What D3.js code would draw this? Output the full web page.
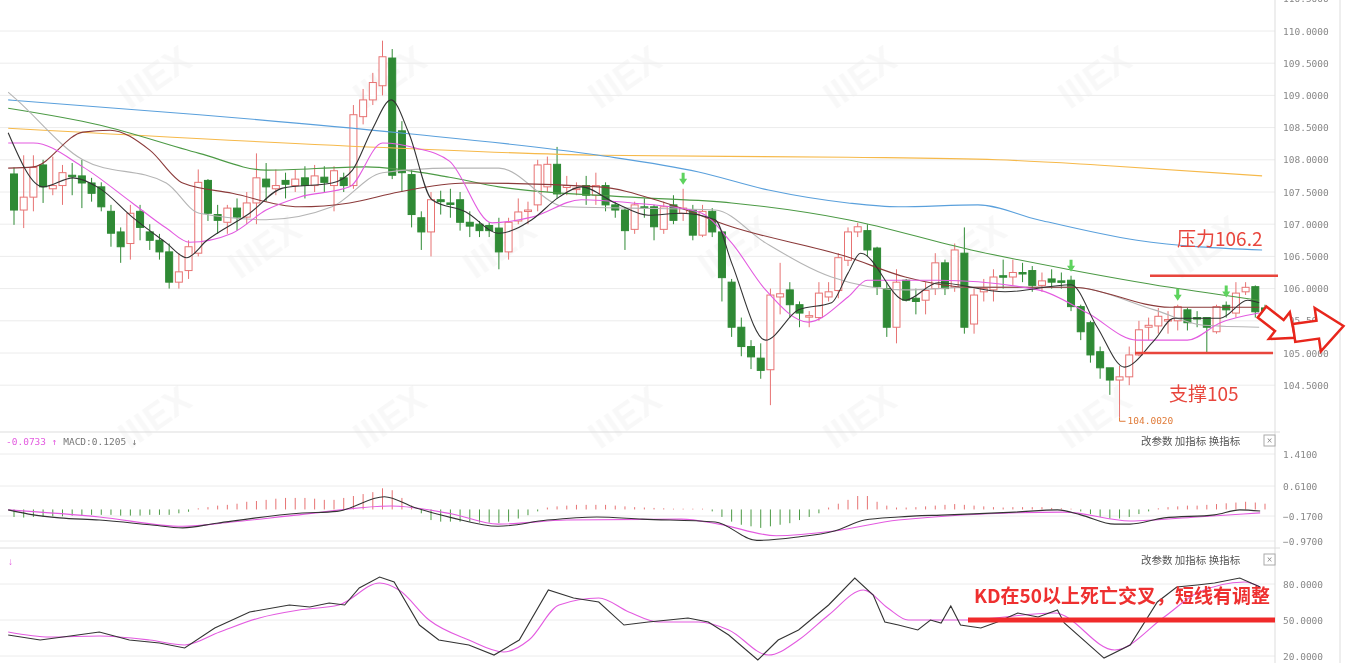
<!DOCTYPE html>
<html><head><meta charset="utf-8">
<script src="https://cdn.jsdelivr.net/npm/d3@7/dist/d3.min.js"></script>
<style>body{margin:0;background:#fff}svg{display:block}</style>
</head><body>
<svg id="c" width="1350" height="663"></svg>
<script>
// ---- candles [open, high, low, close]
const candles = [
[107.78,107.88,106.99,107.22],[107.22,108.07,106.94,107.42],[107.42,108.07,107.2,107.88],[107.92,108.0,107.33,107.58],[107.55,108.05,107.45,107.6],
[107.6,107.92,107.3,107.8],[107.76,107.95,107.45,107.74],[107.75,108.0,107.25,107.64],[107.64,107.72,107.35,107.48],[107.58,107.65,107.2,107.27],
[107.2,107.3,106.65,106.86],[106.88,106.95,106.4,106.65],[106.7,107.3,106.45,107.17],[107.2,107.3,106.75,106.95],[106.88,107.0,106.6,106.75],
[106.75,106.85,106.45,106.57],[106.57,106.7,106.0,106.1],[106.1,106.55,106.0,106.26],[106.28,106.75,106.15,106.65],[106.55,107.85,106.5,107.65],
[107.68,107.7,107.05,107.17],[107.15,107.3,106.85,107.06],[107.03,107.3,106.85,107.25],[107.25,107.4,106.9,107.11],[107.11,107.5,107.0,107.33],
[107.33,108.1,107.0,107.72],[107.7,107.95,107.35,107.58],[107.55,107.85,107.45,107.6],[107.68,107.8,107.4,107.62],[107.6,107.85,107.5,107.7],
[107.72,107.9,107.4,107.6],[107.6,107.92,107.5,107.75],[107.73,107.9,107.5,107.65],[107.6,107.9,107.2,107.83],[107.72,107.8,107.5,107.6],
[107.6,108.85,107.55,108.7],[108.67,109.1,108.55,108.93],[108.93,109.35,108.85,109.2],[109.15,109.85,109.0,109.6],[109.58,109.72,107.7,107.76],
[108.45,108.6,107.5,107.8],[107.77,107.85,106.95,107.15],[107.1,107.2,106.6,106.88],[106.88,107.5,106.5,107.38],[107.38,107.52,107.15,107.35],
[107.33,107.55,107.1,107.32],[107.38,107.5,106.9,107.03],[107.03,107.2,106.8,106.97],[107.0,107.05,106.8,106.9],[106.98,107.03,106.8,106.9],
[106.94,107.1,106.3,106.57],[106.57,107.1,106.45,107.03],[107.05,107.4,107.0,107.19],[107.2,107.35,107.0,107.22],[107.3,108.0,107.2,107.92],
[107.58,108.05,107.5,107.93],[107.93,108.2,107.4,107.47],[107.57,107.75,107.45,107.6],[107.55,107.65,107.45,107.56],[107.6,107.75,107.3,107.45],
[107.45,107.8,107.3,107.6],[107.6,107.65,107.2,107.3],[107.3,107.35,107.1,107.22],[107.22,107.25,106.6,106.9],[106.92,107.35,106.85,107.3],
[107.27,107.4,107.1,107.25],[107.27,107.3,106.75,106.96],[106.92,107.35,106.85,107.27],[107.3,107.45,107.0,107.06],[107.17,107.55,107.05,107.25],
[107.22,107.3,106.75,106.83],[106.83,107.3,106.8,107.2],[107.2,107.25,106.8,106.88],[106.88,106.9,105.8,106.17],[106.1,106.15,105.25,105.4],
[105.4,105.55,104.95,105.1],[105.1,105.2,104.75,104.94],[104.92,105.15,104.6,104.73],[104.74,106.0,104.19,105.9],[105.87,106.4,105.6,105.92],
[105.98,106.1,105.55,105.75],[105.75,105.8,105.4,105.62],[105.57,105.65,105.4,105.58],[105.55,106.1,105.5,105.93],[105.87,106.1,105.8,105.95],
[105.97,106.55,105.85,106.48],[106.44,106.95,106.35,106.88],[106.88,107.02,106.8,106.96],[106.9,107.0,106.5,106.6],[106.63,106.65,105.9,106.03],
[106.0,106.1,105.25,105.4],[105.4,106.3,105.15,106.1],[106.13,106.15,105.8,105.82],[105.85,106.0,105.6,105.8],[105.82,106.1,105.6,105.97],
[106.0,106.55,105.9,106.4],[106.4,106.45,105.9,106.0],[106.02,106.7,105.95,106.6],[106.55,106.95,105.3,105.4],[105.45,106.0,105.3,105.9],
[105.95,106.15,105.8,106.0],[105.98,106.3,105.8,106.18],[106.2,106.45,106.0,106.18],[106.18,106.45,106.05,106.25],[106.25,106.4,106.1,106.24],
[106.28,106.35,105.95,106.05],[106.05,106.25,105.95,106.12],[106.15,106.3,106.0,106.1],[106.12,106.25,106.0,106.1],[106.13,106.2,105.65,105.72],
[105.72,105.75,105.2,105.33],[105.47,105.5,104.85,104.97],[105.02,105.1,104.6,104.77],[104.77,104.75,104.35,104.58],[104.58,104.8,104.002,104.63],
[104.63,105.1,104.5,104.97],[104.97,105.5,104.95,105.36],[105.4,105.55,105.2,105.43],[105.42,105.7,105.3,105.57],[105.5,105.65,105.3,105.52],
[105.5,105.75,105.35,105.72],[105.67,105.7,105.35,105.47],[105.55,105.65,105.4,105.53],[105.55,105.55,105.0,105.4],[105.33,105.75,105.3,105.72],
[105.74,105.8,105.55,105.67],[105.62,106.1,105.55,105.93],[105.95,106.1,105.9,106.02],[106.03,106.05,105.55,105.64],[105.7,105.75,105.5,105.6]
];
// ---- moving averages [candle index, price]
const ma5 = [[-0.6,108.42],[3,107.58],[6.1,107.72],[8.8,107.56],[12.2,107.11],[15.7,106.71],[17.8,106.48],[19.9,106.75],[24.3,107.17],[27.7,107.56],[32.8,107.64],[34.9,107.84],[36.9,108.46],[38.9,108.93],[40.7,108.42],[43.1,107.38],[46.6,107.19],[50,106.86],[53.4,107.07],[56.2,107.42],[58.5,107.58],[62,107.33],[65.4,107.14],[68.8,107.17],[72.3,107.07],[74,106.4],[77.5,105.2],[80.9,105.67],[84.3,105.78],[86,106.24],[87.3,106.55],[91.9,105.82],[95.3,106.09],[102.2,105.95],[109,106.06],[111.7,105.4],[114.5,104.78],[117.6,105.2],[119.6,105.54],[124.4,105.54],[127.2,105.82],[128.4,105.78]];
const ma10 = [[-0.6,108.26],[2,108.26],[7.1,107.89],[12.2,107.33],[15.7,106.94],[18.1,106.72],[22.5,106.86],[26,107.22],[29.4,107.42],[34.6,107.58],[38,108.26],[41.5,108.18],[44.9,107.98],[49.3,107.02],[53.4,107.11],[58.5,107.38],[63.7,107.33],[70.6,107.19],[74,106.71],[77.5,105.98],[81.9,105.48],[86,105.87],[88,106.13],[95.3,106.13],[105.6,105.98],[110.7,105.62],[115.8,105.2],[121,105.2],[124.4,105.47],[128.4,105.62]];
const ma20 = [[-0.6,107.87],[2,107.89],[7.1,108.43],[9.9,108.46],[14,108.15],[17.4,107.64],[22.5,107.48],[29.4,107.27],[34.6,107.33],[39.7,107.5],[46.6,107.64],[60.3,107.58],[67.2,107.33],[74,106.96],[86,106.49],[91.9,106.18],[98.7,106.02],[109,106.02],[119.2,105.71],[128.4,105.71]];
const ma30 = [[-0.6,109.05],[0.3,108.93],[7.1,108.0],[15.7,107.64],[19.1,107.17],[26,107.07],[32.8,107.27],[38,107.8],[44.9,107.87],[50,107.87],[56.9,107.27],[63.7,107.25],[72.3,107.22],[77.5,106.71],[84.3,106.18],[91.9,105.98],[98.7,106.02],[109,106.02],[117.6,105.67],[122.7,105.43],[128.4,105.4]];
const ma60 = [[-0.6,108.8],[8.8,108.54],[19.1,108.1],[26,107.84],[36.3,107.89],[44.9,107.73],[50,107.58],[63.7,107.42],[74,107.33],[86,107.07],[98.7,106.6],[109,106.29],[119.2,106.02],[128.4,105.82]];
const ma120 = [[-0.6,108.93],[19.1,108.7],[39.7,108.42],[60.3,108.07],[70.6,107.81],[77.8,107.53],[86,107.33],[91.2,107.27],[99.4,107.3],[105.6,107.07],[115.8,106.75],[128.7,106.6]];
const ma250 = [[-0.6,108.49],[39.7,108.18],[60.3,108.07],[86,108.04],[101.4,108.0],[111.7,107.92],[128.7,107.75]];
const signalIdx = [69,109,120,125];
// ---- MACD
const dif = [[-0.6,-0.01],[2,-0.14],[4.7,-0.23],[8.8,-0.3],[14,-0.45],[17.4,-0.55],[20.9,-0.4],[29.4,-0.1],[33.3,-0.05],[38.2,0.33],[41.3,0.05],[45.2,-0.23],[49.9,-0.5],[55,-0.3],[60.1,-0.2],[64.8,-0.27],[72.3,-0.36],[76.6,-0.95],[80.6,-0.85],[84.6,-0.65],[87.7,-0.3],[91.2,-0.2],[96.3,-0.14],[103.2,-0.07],[107.6,-0.01],[110,-0.14],[113.5,-0.43],[115.1,-0.43],[118.6,-0.23],[123.8,-0.14],[126.4,-0.01],[128.5,-0.04]];
const dea = [[-0.6,-0.01],[8.8,-0.2],[17.4,-0.5],[22.5,-0.36],[29.4,-0.14],[38.9,0.09],[45.2,-0.12],[49.9,-0.43],[57,-0.3],[68.8,-0.27],[72.7,-0.43],[78.6,-0.8],[84.6,-0.65],[91.2,-0.3],[108.3,-0.07],[115.1,-0.33],[122,-0.2],[128.5,-0.09]];
const hist = [-0.2,-0.22,-0.2,-0.2,-0.18,-0.18,-0.16,-0.16,-0.14,-0.14,
-0.14,-0.16,-0.16,-0.16,-0.14,-0.14,-0.14,-0.1,-0.06,0.03,
0.06,0.1,0.12,0.15,0.2,0.22,0.25,0.28,0.3,0.3,
0.3,0.28,0.25,0.25,0.3,0.35,0.4,0.45,0.55,0.5,
0.3,0.1,-0.1,-0.3,-0.35,-0.35,-0.35,-0.35,-0.38,-0.38,
-0.4,-0.35,-0.25,-0.15,-0.05,0.05,0.08,0.1,0.12,0.12,
0.12,0.12,0.1,0.08,0.06,0.05,0.04,0.03,0.02,0.02,
0.02,0.02,-0.05,-0.2,-0.35,-0.45,-0.5,-0.55,-0.5,-0.45,
-0.4,-0.3,-0.2,-0.1,0.05,0.15,0.25,0.35,0.35,0.2,
0.1,0.05,0.05,0.06,0.08,0.1,0.12,0.14,0.12,0.1,
0.08,0.06,0.05,0.06,0.06,0.06,0.06,0.04,0.03,0.02,
-0.05,-0.12,-0.2,-0.25,-0.25,-0.2,-0.12,-0.05,0.03,0.06,
0.08,0.1,0.1,0.12,0.14,0.16,0.18,0.2,0.18,0.15];
// ---- KD
const kLine = [[-0.6,37.5],[2.7,33.3],[5.8,36.7],[8.8,40],[11.9,33.3],[15,30.8],[17.6,26.7],[20.7,43.3],[24.3,56.7],[28.4,62.5],[30.5,60.8],[32.5,64.2],[34.1,62.5],[35.6,76.7],[37.7,85.8],[39.2,81.7],[41.8,45.8],[43.8,33.3],[46.9,29.2],[49.5,20.8],[52.1,33.3],[55.1,75],[57.7,68.3],[60.3,65],[62.9,45.8],[65.4,48.3],[67.5,50],[69.5,51.7],[71.6,48.3],[73.7,37.5],[76.7,16.7],[78.8,33.3],[80.9,41.7],[84,62.5],[86.7,85],[88.6,70.8],[89.8,48.3],[91.2,45.8],[93.2,41.7],[94.5,50],[95.6,47.5],[96.6,61.7],[97.6,45.8],[99.7,43.3],[101.4,48.3],[103.5,55.8],[105.6,52.5],[107.6,58.3],[108.3,47.5],[112.4,18.3],[115.1,29.2],[117.9,65],[119.9,77.5],[122,79.2],[123.8,80.8],[126.4,85],[128.5,77.5]];
const dLine = [[-0.6,40],[3.7,35.8],[8.8,36.7],[14,33.3],[17.6,29.2],[21.2,40],[25.3,51.7],[29.4,58.3],[33.5,62.5],[37.7,80.8],[39.7,75],[42.8,50],[46.9,33.3],[50.5,23.3],[53.1,33.3],[56.2,62.5],[60.3,68.3],[63.4,56.7],[66.5,48.3],[70.6,48.3],[73.7,41.7],[77.8,20.8],[80.9,33.3],[84,54.2],[87.6,75],[90.1,60],[92.2,50],[98,50],[107.3,55.8],[113.5,25],[118.6,52.5],[122,72.5],[126.9,81.7],[128.5,77.5]];
const priceTicks = [104.5,105,105.5,106,106.5,107,107.5,108,108.5,109,109.5,110,110.5];
const macdTicks = [1.41,0.61,-0.17,-0.97];
const kdTicks = [80,50,20];

const svg = d3.select('#c');
const W = 1275;
const x = d3.scaleLinear().domain([0,129]).range([14,1265]);
const y = d3.scaleLinear().domain([104,110]).range([417.4,31]);
const ym = d3.scaleLinear().domain([-0.97,-0.17,0.61,1.41]).range([541,516,486,454]);
const yk = d3.scaleLinear().domain([20,80]).range([656,584]);
const grid = '#ececec', red = '#e8453c', cRed = '#e77373', cGreen = '#2f8a35';

// faint watermarks
const wm = svg.append('g').attr('fill','#000').attr('opacity',0.03).attr('font-family','Liberation Sans').attr('font-weight','bold');
for (let r=0;r<3;r++) for (let c=0;c<5;c++){
  const wx = 130 + c*235 + (r%2)*110, wy = 110 + r*170;
  wm.append('text').attr('transform',`translate(${wx},${wy}) rotate(-35)`).attr('font-size',36).text('IIIEX');
}

// grid + axes
svg.append('g').selectAll('line').data(priceTicks).join('line')
  .attr('x1',0).attr('x2',W).attr('y1',d=>y(d)).attr('y2',d=>y(d)).attr('stroke',grid);
svg.append('g').selectAll('line').data(macdTicks).join('line')
  .attr('x1',0).attr('x2',W).attr('y1',d=>ym(d)).attr('y2',d=>ym(d)).attr('stroke',grid);
svg.append('g').selectAll('line').data(kdTicks).join('line')
  .attr('x1',0).attr('x2',W).attr('y1',d=>yk(d)).attr('y2',d=>yk(d)).attr('stroke',grid);
[432,548].forEach(v=>svg.append('line').attr('x1',0).attr('x2',1280).attr('y1',v).attr('y2',v).attr('stroke','#ddd'));
svg.append('line').attr('x1',W).attr('x2',W).attr('y1',0).attr('y2',663).attr('stroke','#ddd');
svg.append('line').attr('x1',1340).attr('x2',1340).attr('y1',0).attr('y2',663).attr('stroke','#ddd');

const tf = d3.format('.4f');
function rAxis(scale, ticks){
  const g = svg.append('g').attr('transform',`translate(${W},0)`)
    .call(d3.axisRight(scale).tickValues(ticks).tickFormat(tf).tickSize(0).tickPadding(8));
  g.select('.domain').remove();
  g.selectAll('text').attr('fill','#888').attr('font-family','DejaVu Sans Mono').attr('font-size',9.5);
}
rAxis(y, priceTicks); rAxis(ym, macdTicks); rAxis(yk, kdTicks);

// candles
const cg = svg.append('g');
candles.forEach((d,i)=>{
  const [o,h,l,c] = d, up = c>=o, col = up?cRed:cGreen, cx = x(i);
  cg.append('line').attr('x1',cx).attr('x2',cx).attr('y1',y(h)).attr('y2',y(l)).attr('stroke',col).attr('stroke-width',1);
  const top = y(Math.max(o,c)), hgt = Math.max(1.5, Math.abs(y(o)-y(c)));
  cg.append('rect').attr('x',cx-3.5).attr('y',top).attr('width',7).attr('height',hgt)
    .attr('fill',up?'#fff':cGreen).attr('stroke',col).attr('stroke-width',1);
});

// MAs
const line = sc => d3.line().x(d=>x(d[0])).y(d=>sc(d[1])).curve(d3.curveMonotoneX);
[[ma250,'#f6b94a'],[ma120,'#5aa0dc'],[ma60,'#4c9a45'],[ma30,'#b5b5b5'],[ma20,'#8b3a3a'],[ma10,'#e35be0'],[ma5,'#333']].forEach(([d,c])=>{
  svg.append('path').datum(d).attr('d',line(y)).attr('fill','none').attr('stroke',c).attr('stroke-width',1.1);
});
// signal arrows
signalIdx.forEach(i=>{
  const cx = x(i), ty = y(candles[i][1]) - 16;
  svg.append('path').attr('d',`M${cx-1.5},${ty} h3 v6 h2.5 l-4,6 l-4,-6 h2.5 z`).attr('fill','#5ed35e');
});

// S/R lines and labels
svg.append('line').attr('x1',1150).attr('x2',1278).attr('y1',y(106.2)).attr('y2',y(106.2)).attr('stroke',red).attr('stroke-width',2.5);
svg.append('line').attr('x1',1135).attr('x2',1273).attr('y1',y(105)).attr('y2',y(105)).attr('stroke',red).attr('stroke-width',2.5);
svg.append('text').attr('x',1177).attr('y',246).attr('fill',red).attr('font-size',19).attr('font-family','Noto Sans CJK SC').text('压力106.2');
svg.append('text').attr('x',1169).attr('y',401).attr('fill',red).attr('font-size',19).attr('font-family','Noto Sans CJK SC').text('支撑105');
svg.append('path').attr('d',`M${x(114)},${y(104.002)} L${x(114)},${y(104.002)+4} M${x(114)},${y(104.002)+4} h6`).attr('stroke','#e07b39').attr('fill','none');
svg.append('text').attr('x',x(114)+8).attr('y',y(104.002)+7).attr('fill','#e07b39').attr('font-size',9.5).attr('font-family','DejaVu Sans Mono').text('104.0020');

// hollow arrows
const arrowPath = 'M0,-7 L22,-7 L22,-17 L42,0 L22,17 L22,7 L0,7 Z';
svg.append('path').attr('d',arrowPath).attr('transform','translate(1262,312) rotate(38)').attr('fill','#fff').attr('stroke','#e8261c').attr('stroke-width',2.5);
svg.append('path').attr('d','M0,-9 L24,-9 L24,-22 L50,0 L24,22 L24,9 L0,9 Z').attr('transform','translate(1294,333) rotate(-8)').attr('fill','#fff').attr('stroke','#e8261c').attr('stroke-width',2.5);

// MACD
svg.append('g').selectAll('line').data(hist).join('line')
  .attr('x1',(d,i)=>x(i)).attr('x2',(d,i)=>x(i)).attr('y1',ym(0)).attr('y2',d=>ym(d))
  .attr('stroke',d=>d>=0?'#e77373':'#4c9a45').attr('stroke-width',1);
svg.append('path').datum(dea).attr('d',line(ym)).attr('fill','none').attr('stroke','#e35be0').attr('stroke-width',1.1);
svg.append('path').datum(dif).attr('d',line(ym)).attr('fill','none').attr('stroke','#333').attr('stroke-width',1.1);

// KD
svg.append('path').datum(dLine).attr('d',line(yk)).attr('fill','none').attr('stroke','#e35be0').attr('stroke-width',1.1);
svg.append('path').datum(kLine).attr('d',d3.line().x(d=>x(d[0])).y(d=>yk(d[1]))).attr('fill','none').attr('stroke','#333').attr('stroke-width',1.1);
svg.append('line').attr('x1',968).attr('x2',1275).attr('y1',yk(50)).attr('y2',yk(50)).attr('stroke','#f02a2a').attr('stroke-width',5);
svg.append('text').attr('x',974).attr('y',603).attr('fill','#ee3030').attr('font-size',19).attr('font-weight','bold').attr('font-family','Noto Sans CJK SC').text('KD在50以上死亡交叉，短线有调整');

// headers
const hdr = svg.append('text').attr('x',6).attr('y',445).attr('font-size',9.5).attr('font-family','DejaVu Sans Mono');
hdr.append('tspan').attr('fill','#e35be0').text('-0.0733 ↑ ');
hdr.append('tspan').attr('fill','#777').text('MACD:0.1205 ↓');
svg.append('text').attr('x',8).attr('y',565).attr('font-size',10).attr('fill','#e35be0').text('↓');
[445,564].forEach(yy=>{
  svg.append('text').attr('x',1141).attr('y',yy).attr('font-size',10.5).attr('fill','#555').attr('font-family','Noto Sans CJK SC').text('改参数  加指标  换指标');
  svg.append('rect').attr('x',1264).attr('y',yy-10).attr('width',11).attr('height',11).attr('fill','#fff').attr('stroke','#aaa');
  svg.append('text').attr('x',1269.5).attr('y',yy-1).attr('text-anchor','middle').attr('font-size',10).attr('fill','#777').text('×');
});
</script>
</body></html>
